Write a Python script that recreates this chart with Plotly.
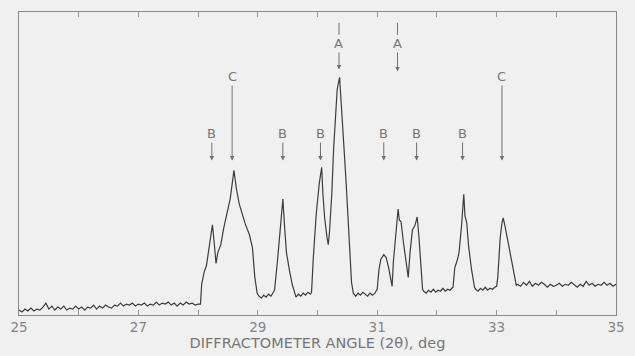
import plotly.graph_objects as go

# ---- data: diffractometer trace (angle in deg, intensity in arbitrary units) ----
angle = [
    25.00, 25.05, 25.10, 25.15, 25.20, 25.25, 25.30, 25.35, 25.40, 25.45, 25.50, 25.55, 25.60, 25.65, 25.70,
    25.75, 25.80, 25.85, 25.90, 25.95, 26.00, 26.05, 26.10, 26.15, 26.20, 26.25, 26.30, 26.35, 26.40, 26.45,
    26.50, 26.55, 26.60, 26.65, 26.70, 26.75, 26.80, 26.85, 26.90, 26.95, 27.00, 27.05, 27.10, 27.15, 27.20,
    27.25, 27.30, 27.35, 27.40, 27.45, 27.50, 27.55, 27.60, 27.65, 27.70, 27.75, 27.80, 27.85, 27.90, 27.95,
    28.00, 28.04, 28.06, 28.10, 28.14, 28.19, 28.24, 28.27, 28.30, 28.33, 28.38, 28.43, 28.49, 28.54, 28.60,
    28.64, 28.69, 28.79, 28.86, 28.91, 28.95, 28.99, 29.02, 29.06, 29.10, 29.14, 29.18, 29.22, 29.25, 29.28,
    29.33, 29.39, 29.42, 29.45, 29.48, 29.53, 29.58, 29.64, 29.68, 29.72, 29.76, 29.80, 29.84, 29.88, 29.90,
    29.93, 29.98, 30.03, 30.07, 30.09, 30.12, 30.16, 30.18, 30.20, 30.24, 30.27, 30.30, 30.33, 30.37, 30.39,
    30.42, 30.46, 30.48, 30.51, 30.54, 30.57, 30.60, 30.64, 30.68, 30.72, 30.76, 30.80, 30.84, 30.88, 30.92,
    30.96, 31.00, 31.03, 31.06, 31.11, 31.15, 31.19, 31.23, 31.25, 31.27, 31.31, 31.35, 31.37, 31.40, 31.44,
    31.49, 31.52, 31.55, 31.59, 31.63, 31.67, 31.70, 31.73, 31.76, 31.78, 31.82, 31.86, 31.90, 31.94, 31.98,
    32.02, 32.06, 32.10, 32.14, 32.18, 32.22, 32.25, 32.27, 32.30, 32.34, 32.37, 32.41, 32.45, 32.47, 32.50,
    32.53, 32.58, 32.63, 32.65, 32.69, 32.73, 32.77, 32.81, 32.85, 32.89, 32.93, 32.97, 33.00, 33.02, 33.06,
    33.09, 33.11, 33.14, 33.19, 33.24, 33.27, 33.30, 33.33, 33.35, 33.40, 33.45, 33.50, 33.55, 33.60, 33.65,
    33.70, 33.75, 33.80, 33.85, 33.90, 33.95, 34.00, 34.05, 34.10, 34.15, 34.20, 34.25, 34.30, 34.35, 34.40,
    34.45, 34.50, 34.55, 34.60, 34.65, 34.70, 34.75, 34.80, 34.85, 34.90, 34.95, 35.00,
]
intensity = [
    5, 3, 6, 4, 7, 4, 6, 5, 8, 12, 6, 9, 5, 8, 6,
    9, 5, 7, 6, 9, 6, 8, 5, 8, 7, 10, 6, 9, 7, 10,
    8, 7, 10, 9, 12, 9, 11, 10, 12, 9, 11, 10, 12, 9, 11,
    10, 13, 10, 12, 11, 13, 10, 12, 9, 12, 10, 13, 11, 12, 10,
    11, 11, 31, 43, 50, 73, 91, 73, 52, 63, 71, 88, 106, 118, 146,
    128, 112, 92, 81, 68, 38, 22, 19, 17, 20, 18, 21, 19, 22, 25,
    55, 95, 117, 88, 63, 45, 30, 18, 21, 19, 22, 20, 23, 21, 23,
    58, 103, 133, 149, 123, 98, 78, 71, 83, 123, 168, 203, 228, 240, 223,
    188, 153, 133, 98, 56, 33, 22, 19, 22, 20, 23, 21, 19, 22, 20,
    22, 26, 46, 56, 61, 58, 48, 33, 29, 53, 83, 107, 96, 94, 73,
    48, 38, 63, 86, 90, 99, 78, 48, 26, 24, 22, 25, 23, 26, 23,
    25, 24, 27, 24, 26, 25, 27, 28, 48, 55, 63, 88, 122, 100, 93,
    70, 46, 28, 26, 24, 27, 25, 28, 25, 27, 26, 28, 29, 38, 78,
    93, 98, 90, 75, 60, 50, 40, 30, 31, 29, 33, 30, 34, 29, 32,
    30, 33, 31, 28, 31, 29, 30, 32, 29, 31, 30, 33, 30, 28, 31,
    29, 34, 30, 32, 29, 31, 30, 33, 30, 32, 29, 31,
]

# ---- phase markers ----
marker_text = ["B", "C", "B", "B", "A", "B", "A", "B", "B", "C"]
marker_angle = [28.23, 28.57, 29.42, 30.05, 30.36, 31.11, 31.34, 31.66, 32.43, 33.09]

tick_vals = [25, 27, 29, 31, 33, 35]
tick_text = ["25", "27", "29", "31", "33", "35"]

BG = "#f0f0f0"
INK = "#707070"
FONT = "DejaVu Sans"

fig = go.Figure()
fig.add_trace(go.Scatter(x=angle, y=intensity, mode="lines",
                         line=dict(color="#3c3c3c", width=1.2), hoverinfo="skip"))

# arrow tips (intensity units) and label offsets (px) by marker style
for t, xa in zip(marker_text, marker_angle):
    if t == "B":
        tip, ay = 156, -27
    elif t == "C":
        tip, ay = 156, -84
    else:
        tip = 248 if xa < 31 else 246
        ay = -26 if xa < 31 else -28
        fig.add_shape(type="line", x0=xa, x1=xa, y0=283, y1=295,
                      line=dict(color=INK, width=1))
    fig.add_annotation(x=xa, y=tip, text=t, showarrow=True, ax=0, ay=ay,
                       arrowhead=2, arrowsize=0.9, arrowwidth=1, arrowcolor=INK,
                       font=dict(family=FONT, size=13, color="#777"),
                       borderpad=0, standoff=0, startstandoff=1)

fig.update_layout(
    width=635, height=356,
    margin=dict(l=13, r=10, t=12, b=38),
    paper_bgcolor=BG, plot_bgcolor=BG,
    showlegend=False,
    xaxis=dict(range=[25, 35], tickvals=tick_vals, ticktext=tick_text,
               ticks="inside", ticklen=5, tickcolor="#999", tickwidth=1,
               minor=dict(dtick=1, tick0=25, ticks="inside", ticklen=5, tickcolor="#999"),
               showline=True, linecolor="#8a8a8a", linewidth=1.3, mirror="ticks",
               showgrid=False, zeroline=False,
               tickfont=dict(family=FONT, size=13.5, color="#858585"),
               title=dict(text="DIFFRACTOMETER ANGLE (2θ), deg",
                          font=dict(family=FONT, size=14.5, color="#777"), standoff=1)),
    yaxis=dict(range=[0, 306], showticklabels=False, ticks="", showgrid=False,
               zeroline=False, showline=True, linecolor="#8a8a8a", linewidth=1.3, mirror=True),
)

fig.write_html("out.html")
